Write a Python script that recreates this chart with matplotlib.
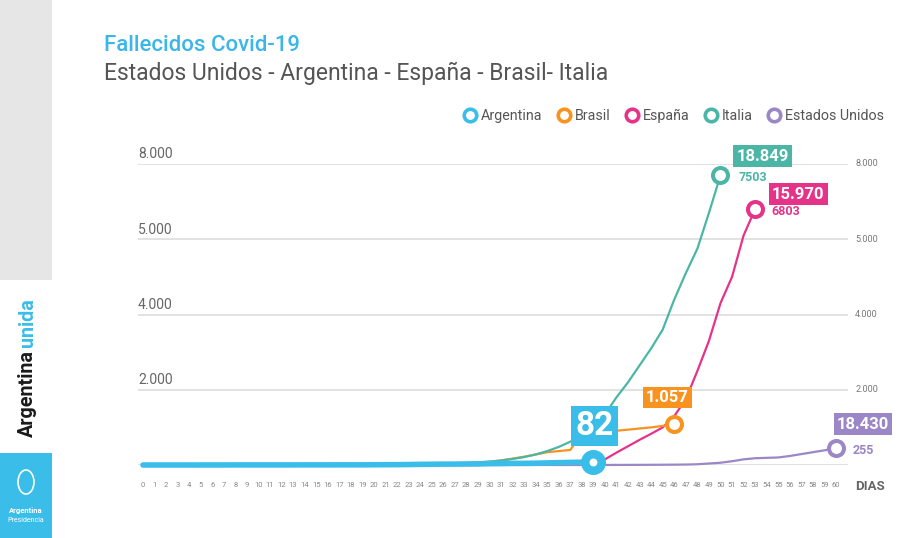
import matplotlib
matplotlib.use("Agg")
import matplotlib.pyplot as plt
from matplotlib.lines import Line2D
from matplotlib.patches import Rectangle, Ellipse

plt.rcParams['font.family'] = ['Roboto', 'DejaVu Sans']

# Data
argentina = [0, 0, 0, 0, 0, 1, 1, 1, 2, 2, 2, 2, 2,
             2, 3, 3, 3, 4, 4, 4, 6, 8, 9,
             12, 17, 20, 23, 24, 27, 28, 36, 39, 43,
             44, 48, 56, 63, 69, 75, 82]
brasil = [0] * 20 + [1, 3, 6, 11, 18, 25, 34,
                     40, 55, 70, 85, 120, 170, 220,
                     280, 340, 370, 400, 850, 870, 890,
                     910, 940, 970, 1000, 1040, 1080]
espana = [0] * 20 + [1, 2, 3, 5, 8, 10, 13, 17, 20, 25,
                     30, 35, 40, 45, 50, 55, 60, 70, 80, 100,
                     150, 330, 500, 670, 830, 1000, 1300, 1750, 2500, 3300,
                     4300, 5000, 6100, 6800]
italia = [0, 0, 0, 0, 0, 0, 0, 0, 0, 0, 1, 2, 3, 4, 4, 5, 5, 5, 5, 5,
          5, 7, 9, 12, 15, 20, 28, 38, 50, 70,
          90, 120, 160, 210, 280, 370, 480, 620, 780, 1000,
          1350, 1800, 2200, 2650, 3100, 3600, 4400, 5100, 5750, 6700, 7700]
eeuu = [0] * 40 + [1, 2, 3, 4, 5, 7, 9, 12,
                   20, 40, 60, 100, 150, 180, 190, 200, 240, 290, 340, 390, 450]

# labels shown in the chart
box_labels = {'Argentina': '82', 'Brasil': '1.057', 'España': '15.970',
              'Italia': '18.849', 'Estados Unidos': '18.430'}
sub_labels = {'Italia': '7503', 'España': '6803', 'Estados Unidos': '255'}
y_ticks = [2000, 4000, 6000, 8000]
y_tick_labels = ['2.000', '4.000', '5.000', '8.000']

colors = {'Argentina': '#3bbde9', 'Brasil': '#f7931e', 'España': '#e6338a',
          'Italia': '#4cb6a6', 'Estados Unidos': '#9b87c6'}
series = {'Argentina': argentina, 'Brasil': brasil, 'España': espana,
          'Italia': italia, 'Estados Unidos': eeuu}

fig = plt.figure(figsize=(9.14, 5.38), dpi=100)
W, H = 914, 538

# sidebar
fig.patches.append(Rectangle((0, 1 - 280 / H), 52 / W, 280 / H, transform=fig.transFigure,
                             facecolor='#e6e6e6', edgecolor='none', zorder=0))
fig.patches.append(Rectangle((0, 0), 52 / W, 85 / H, transform=fig.transFigure,
                             facecolor='#3bbde9', edgecolor='none', zorder=0))
fig.text(27 / W, 1 - 437 / H, 'Argentina', rotation=90, ha='center', va='bottom',
         fontsize=14.2, fontweight='bold', color='#1a1a1a')
fig.text(27 / W, 1 - 298 / H, 'unida', rotation=90, ha='center', va='top',
         fontsize=14.2, fontweight='bold', color='#3bbde9')
fig.patches.append(Ellipse((26 / W, 1 - 482 / H), 16 / W, 24 / H, transform=fig.transFigure,
                           facecolor='none', edgecolor='white', linewidth=1.2))
fig.text(26 / W, 1 - 510 / H, 'Argentina', ha='center', va='center',
         fontsize=5.5, fontweight='bold', color='white')
fig.text(26 / W, 1 - 521 / H, 'Presidencia', ha='center', va='center',
         fontsize=5, color='white')

# titles
fig.text(104 / W, 1 - 46 / H, 'Fallecidos Covid-19', fontsize=16, fontweight='medium',
         color='#3bb6e8', va='center')
fig.text(104 / W, 1 - 73 / H, 'Estados Unidos - Argentina - España - Brasil- Italia',
         fontsize=16.5, fontweight='normal', color='#555555', va='center')

# axes: day 0 at x=143, grid from 138 to 848 px
ax = fig.add_axes([138 / W, 1 - 465 / H, 710 / W, (465 - 164) / H])
ax.set_xlim(-0.43, 61.04)
ax.set_ylim(0, 8000)
for s in ax.spines.values():
    s.set_visible(False)
ax.set_yticks([0] + y_ticks)
ax.set_yticklabels([])
ax.tick_params(axis='y', length=0)
ax.grid(axis='y', color='#dddddd', linewidth=1.2)
ax.set_xticks(range(61))
ax.set_xticklabels([str(d) for d in range(61)], fontsize=5.5, color='#888888')
ax.tick_params(axis='x', length=0, pad=12)
ax.text(1.01, -0.07, 'DIAS', transform=ax.transAxes, fontsize=9.5, fontweight='bold',
        color='#666666', va='center', ha='left')

for v, lab in zip(y_ticks, y_tick_labels):
    ax.text(0, v + 70, lab, transform=ax.get_yaxis_transform(), ha='left', va='bottom',
            fontsize=10, color='#666666')
    ax.text(1.01, v, lab, transform=ax.get_yaxis_transform(), ha='left', va='center',
            fontsize=6.5, color='#777777')

# lines
order = ['Estados Unidos', 'España', 'Brasil', 'Italia', 'Argentina']
for name in order:
    vals = series[name]
    lw = 4.0 if name == 'Argentina' else 1.6
    ax.plot(range(len(vals)), vals, color=colors[name], linewidth=lw,
            solid_capstyle='round', zorder=3 if name != 'Argentina' else 4, clip_on=False)

# end markers and labels
box_offset = {'Argentina': (1, 36), 'Brasil': (-7, 27), 'España': (43, 15),
              'Italia': (42, 19), 'Estados Unidos': (27, 24)}
for name in order:
    vals = series[name]
    x_end, y_end = len(vals) - 1, vals[-1]
    if name == 'Argentina':
        ax.plot(x_end, y_end, 'o', ms=11.9, mew=6.1, mfc='white', mec=colors[name],
                zorder=6, clip_on=False)
    else:
        ax.plot(x_end, y_end, 'o', ms=10.8, mew=2.9, mfc='white', mec=colors[name],
                zorder=5, clip_on=False)
    fs = 24 if name == 'Argentina' else 12
    pad = 0.12 if name == 'Argentina' else 0.2
    ax.annotate(box_labels[name], (x_end, y_end), xytext=box_offset[name],
                textcoords='offset pixels', ha='center', va='center', fontsize=fs,
                fontweight='bold', color='white', zorder=7,
                bbox=dict(boxstyle=f'square,pad={pad}', fc=colors[name], ec='none'))
    if name in sub_labels:
        dx = 17 if name == 'Estados Unidos' else (18 if name == 'Italia' else 16)
        ax.annotate(sub_labels[name], (x_end, y_end), xytext=(dx, -2),
                    textcoords='offset pixels', ha='left', va='center', fontsize=9,
                    fontweight='bold', color=colors[name], zorder=7)

# legend
handles = [Line2D([], [], linestyle='none', marker='o', ms=9, mew=2.6, mfc='white',
                  mec=colors[n], label=n)
           for n in ['Argentina', 'Brasil', 'España', 'Italia', 'Estados Unidos']]
fig.legend(handles=handles, loc='center right', bbox_to_anchor=(891 / W, 1 - 116 / H),
           ncol=5, frameon=False, fontsize=10.3, labelcolor='#555555',
           handlelength=0.8, handletextpad=0.35, columnspacing=1.1, borderpad=0)

fig.savefig('out.png', dpi=100)
